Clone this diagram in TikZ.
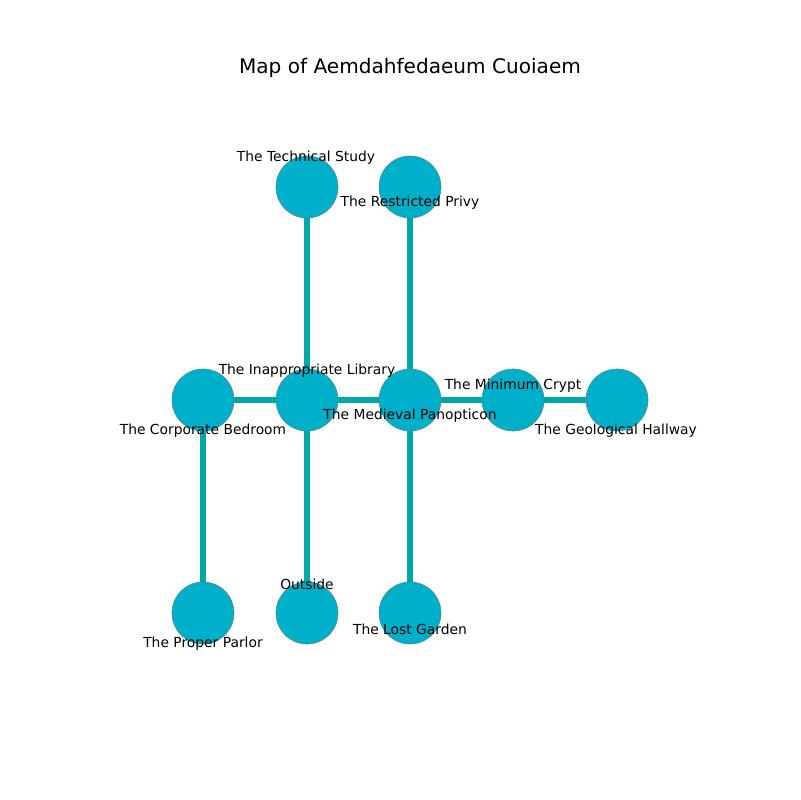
\documentclass[tikz,border=0pt]{standalone}
\usepackage{fontspec}
\setmainfont{DejaVu Sans}
\definecolor{nodefill}{HTML}{00B0CA}
\definecolor{nodeedge}{HTML}{4D8A94}
\definecolor{edgecol}{HTML}{00A8A8}
\begin{document}
\begin{tikzpicture}[x=0.01in,y=-0.01in,
  room/.style={circle,fill=nodefill,draw=nodeedge,line width=0.4pt,minimum size=0.62in,inner sep=0pt},
  link/.style={draw=edgecol,line width=3.8pt},
  lbl/.style={font=\fontsize{10}{12}\selectfont,inner sep=0pt}]
\useasboundingbox (0,0) rectangle (800,800);
\node[font=\fontsize{14.5}{16}\selectfont] (title) at (410,68) {Map of Aemdahfedaeum Cuoiaem};
% node positions
\coordinate (ts) at (307,187);
\coordinate (rp) at (410,187);
\coordinate (cb) at (203,400);
\coordinate (il) at (307,400);
\coordinate (mp) at (410,400);
\coordinate (mc) at (513,400);
\coordinate (gh) at (617,400);
\coordinate (pp) at (203,613);
\coordinate (out) at (307,613);
\coordinate (lg) at (410,613);
% edges
\draw[link] (ts) -- (il);
\draw[link] (rp) -- (mp);
\draw[link] (cb) -- (il);
\draw[link] (il) -- (mp);
\draw[link] (mp) -- (mc);
\draw[link] (mc) -- (gh);
\draw[link] (cb) -- (pp);
\draw[link] (il) -- (out);
\draw[link] (mp) -- (lg);
% nodes
\foreach \n in {ts,rp,cb,il,mp,mc,gh,pp,out,lg} {\node[room] (n\n) at (\n) {};}
% labels
\node[lbl] (lts) at (306,158) {The Technical Study};
\node[lbl] (lrp) at (410,203) {The Restricted Privy};
\node[lbl] (lil) at (307,371) {The Inappropriate Library};
\node[lbl] (lcb) at (203,431) {The Corporate Bedroom};
\node[lbl] (lmp) at (410,416) {The Medieval Panopticon};
\node[lbl] (lmc) at (513,386) {The Minimum Crypt};
\node[lbl] (lgh) at (616,431) {The Geological Hallway};
\node[lbl] (lout) at (307,584) {Outside};
\node[lbl] (lpp) at (203,644) {The Proper Parlor};
\node[lbl] (llg) at (410,629) {The Lost Garden};
\end{tikzpicture}
\end{document}
